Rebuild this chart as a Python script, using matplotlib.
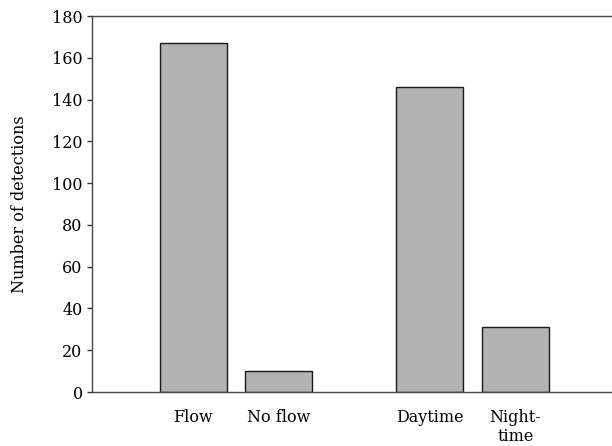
import matplotlib
matplotlib.use("Agg")
import matplotlib.pyplot as plt
import numpy as np

categories = ["Flow", "No flow", "Daytime", "Night-\ntime"]
detections = [167, 10, 146, 31]
positions = [0, 1, 2.775, 3.775]
yticks = np.arange(0, 181, 20)

plt.rcParams['font.family'] = ['DejaVu Serif']
plt.rcParams['font.size'] = 11.5

fig = plt.figure(figsize=(6.12, 4.46), dpi=100)
ax = fig.add_axes([0.150, 0.121, 0.850, 0.843])

ax.bar(positions, detections, width=0.785, color='#b3b3b3',
       edgecolor='#1a1a1a', linewidth=1.0)

ax.set_xlim(-1.19, 4.91)
ax.set_ylim(0, 180)
ax.set_yticks(yticks)
ax.set_xticks(positions)
ax.set_xticklabels(categories, linespacing=1.15)
ax.tick_params(axis='x', length=0, pad=12)
ax.tick_params(axis='y', length=3.6, width=1.0, color='#333333', pad=3)
ax.set_ylabel("Number of detections", labelpad=17)

for s in ['left', 'top', 'bottom']:
    ax.spines[s].set_color('#444444')
    ax.spines[s].set_linewidth(1.0)
ax.spines['right'].set_visible(False)

fig.savefig("out.png", dpi=100)
